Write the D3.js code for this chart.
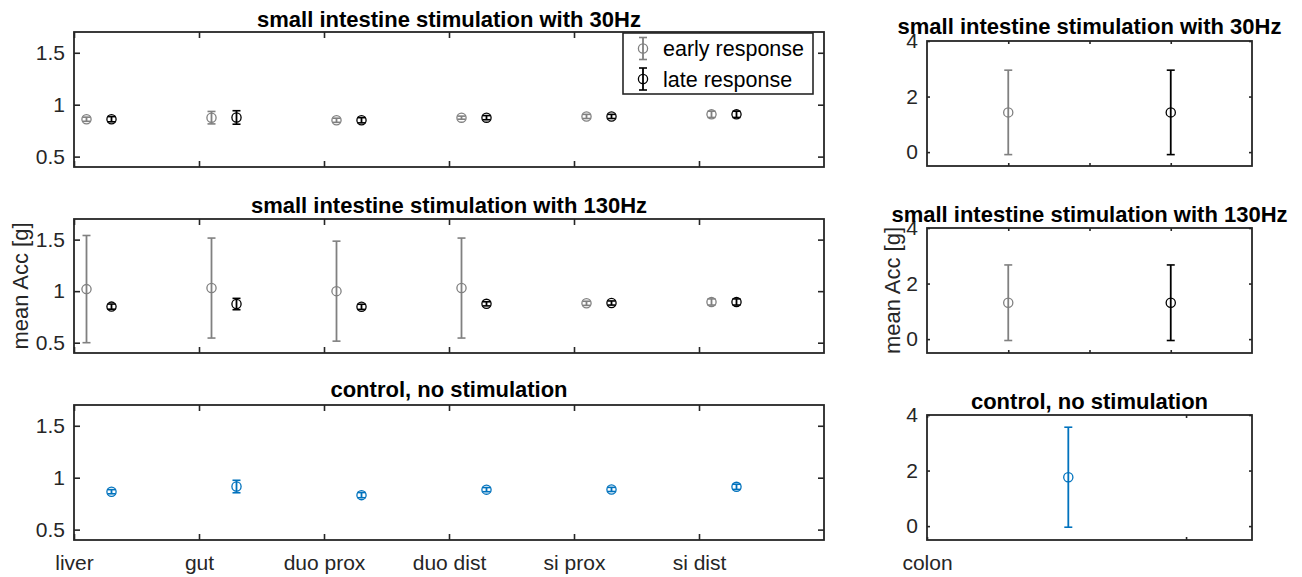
<!DOCTYPE html>
<html>
<head>
<meta charset="utf-8">
<script src="https://cdn.jsdelivr.net/npm/d3@7"></script>
<style>
  body { margin: 0; background: #fff; }
  svg { display: block; font-family: "Liberation Sans", Arial, sans-serif; }
</style>
</head>
<body>
<svg id="chart"></svg>
<script>
// data
const sites = ["liver", "gut", "duo prox", "duo dist", "si prox", "si dist"]
const early30Mean = [0.86, 0.875, 0.85, 0.875, 0.887, 0.907]
const early30Err = [0.02, 0.06, 0.02, 0.015, 0.02, 0.03]
const late30Mean = [0.86, 0.877, 0.85, 0.875, 0.887, 0.907]
const late30Err = [0.025, 0.065, 0.025, 0.02, 0.02, 0.03]
const early130Mean = [1.02, 1.03, 1.0, 1.03, 0.882, 0.895]
const early130Err = [0.52, 0.485, 0.485, 0.485, 0.02, 0.03]
const late130Mean = [0.85, 0.875, 0.848, 0.877, 0.885, 0.895]
const late130Err = [0.025, 0.055, 0.025, 0.02, 0.02, 0.03]
const ctrlMean = [0.865, 0.915, 0.832, 0.885, 0.887, 0.912]
const ctrlErr = [0.02, 0.06, 0.025, 0.02, 0.02, 0.025]

const colonLabel = ["colon"]
const colonEarly30 = [1.43], colonEarly30Err = [1.52]
const colonLate30 = [1.43], colonLate30Err = [1.52]
const colonEarly130 = [1.31], colonEarly130Err = [1.36]
const colonLate130 = [1.31], colonLate130Err = [1.36]
const colonCtrl = [1.76], colonCtrlErr = [1.8]

const leftYTicks = [0.5, 1, 1.5]
const rightYTicks = [0, 2, 4]

const GRAY = "#808080", BLACK = "#000000", BLUE = "#0072BD", AXC = "#262626"

const svg = d3.select("#chart").attr("width", 1302).attr("height", 577)
svg.append("rect").attr("width", 1302).attr("height", 577).attr("fill", "#fff")

const drawAxes = (o) => {
  const g = svg.append("g")
  const x = d3.scaleLinear().domain(o.xDomain).range([o.left, o.right])
  const y = d3.scaleLinear().domain(o.yDomain).range([o.bottom, o.top])
  const fmt = d3.format("~g")

  const style = (sel) => {
    sel.select(".domain").remove()
    sel.selectAll("line").attr("stroke", AXC).attr("stroke-width", 1.6)
    sel.selectAll("text").attr("fill", AXC).attr("font-size", 21)
    sel.attr("font-family", null).attr("font-size", null)
  }

  g.append("g").attr("transform", `translate(${o.left},0)`)
    .call(d3.axisLeft(y).tickValues(o.yTicks).tickSize(-o.tick).tickPadding(9).tickFormat(fmt)).call(style)
  g.append("g").attr("transform", `translate(${o.right},0)`)
    .call(d3.axisRight(y).tickValues(o.yTicks).tickSize(-o.tick).tickFormat("")).call(style)
  g.append("g").attr("transform", `translate(0,${o.bottom})`)
    .call(d3.axisBottom(x).tickValues(o.xTicks).tickSize(-o.tick).tickPadding(15)
      .tickFormat((d, i) => o.xLabels ? (o.xLabels[i] || "") : "")).call(style)
  g.append("g").attr("transform", `translate(0,${o.top})`)
    .call(d3.axisTop(x).tickValues(o.xTicks).tickSize(-o.tick).tickFormat("")).call(style)

  g.append("rect")
    .attr("x", o.left).attr("y", o.top)
    .attr("width", o.right - o.left).attr("height", o.bottom - o.top)
    .attr("fill", "none").attr("stroke", AXC).attr("stroke-width", 1.8)

  g.append("text")
    .attr("x", (o.left + o.right) / 2).attr("y", o.titleY)
    .attr("text-anchor", "middle").attr("font-weight", "bold").attr("font-size", 22)
    .attr("fill", "#000").text(o.title)

  if (o.ylabel) {
    g.append("text")
      .attr("transform", `translate(${o.ylabelX},${(o.top + o.bottom) / 2}) rotate(-90)`)
      .attr("text-anchor", "middle").attr("font-size", 22).attr("fill", AXC)
      .text(o.ylabel)
  }

  o.series.forEach(s => {
    const sg = g.append("g").attr("stroke", s.color).attr("fill", "none")
    s.mean.forEach((m, i) => {
      const cx = x(o.xBase + i + s.offset)
      const y0 = y(m - s.err[i]), y1 = y(m + s.err[i])
      sg.append("line").attr("x1", cx).attr("x2", cx).attr("y1", y0).attr("y2", y1).attr("stroke-width", 1.8)
      sg.append("line").attr("x1", cx - 4).attr("x2", cx + 4).attr("y1", y0).attr("y2", y0).attr("stroke-width", 1.6)
      sg.append("line").attr("x1", cx - 4).attr("x2", cx + 4).attr("y1", y1).attr("y2", y1).attr("stroke-width", 1.6)
      sg.append("circle").attr("cx", cx).attr("cy", y(m)).attr("r", 4.6).attr("stroke-width", 1.3)
    })
  })
  return { x, y, g }
}

const leftBase = { left: 74, right: 824, xDomain: [1, 7], yDomain: [0.4, 1.7], xTicks: [1, 2, 3, 4, 5, 6], yTicks: leftYTicks, tick: 6, xBase: 1 }
const rightBase = { left: 927, right: 1252, xDomain: [1, 1.4], yDomain: [-0.5, 4], xTicks: [1.1, 1.2, 1.3], yTicks: rightYTicks, tick: 3, xBase: 1 }

const top30 = drawAxes({ ...leftBase, top: 32, bottom: 167, titleY: 27,
  title: "small intestine stimulation with 30Hz",
  series: [
    { mean: early30Mean, err: early30Err, color: GRAY, offset: 0.1 },
    { mean: late30Mean, err: late30Err, color: BLACK, offset: 0.3 }
  ] })

drawAxes({ ...leftBase, top: 219, bottom: 353, titleY: 213,
  title: "small intestine stimulation with 130Hz", ylabel: "mean Acc [g]", ylabelX: 28,
  series: [
    { mean: early130Mean, err: early130Err, color: GRAY, offset: 0.1 },
    { mean: late130Mean, err: late130Err, color: BLACK, offset: 0.3 }
  ] })

drawAxes({ ...leftBase, top: 405, bottom: 540, titleY: 397, xLabels: sites,
  title: "control, no stimulation",
  series: [ { mean: ctrlMean, err: ctrlErr, color: BLUE, offset: 0.3 } ] })

drawAxes({ ...rightBase, top: 41, bottom: 166, titleY: 34,
  title: "small intestine stimulation with 30Hz",
  series: [
    { mean: colonEarly30, err: colonEarly30Err, color: GRAY, offset: 0.1 },
    { mean: colonLate30, err: colonLate30Err, color: BLACK, offset: 0.3 }
  ] })

drawAxes({ ...rightBase, top: 228, bottom: 353, titleY: 222,
  title: "small intestine stimulation with 130Hz", ylabel: "mean Acc [g]", ylabelX: 900,
  series: [
    { mean: colonEarly130, err: colonEarly130Err, color: GRAY, offset: 0.1 },
    { mean: colonLate130, err: colonLate130Err, color: BLACK, offset: 0.3 }
  ] })

drawAxes({ ...rightBase, top: 415, bottom: 540, titleY: 409, xDomain: [1, 1.69],
  xTicks: [1, 1.55], xLabels: colonLabel,
  title: "control, no stimulation",
  series: [ { mean: colonCtrl, err: colonCtrlErr, color: BLUE, offset: 0.3 } ] })

// legend in the top left axes
const legendItems = ["early response", "late response"]
const legendColors = [GRAY, BLACK]
const leg = top30.g.append("g")
leg.append("rect").attr("x", 623).attr("y", 33).attr("width", 190).attr("height", 61)
  .attr("fill", "#fff").attr("stroke", AXC).attr("stroke-width", 1.6)
legendItems.forEach((name, i) => {
  const cy = 48.5 + i * 30.5
  const lg = leg.append("g").attr("stroke", legendColors[i]).attr("fill", "none")
  lg.append("line").attr("x1", 643).attr("x2", 643).attr("y1", cy - 11).attr("y2", cy + 11).attr("stroke-width", 1.8)
  lg.append("line").attr("x1", 639).attr("x2", 647).attr("y1", cy - 11).attr("y2", cy - 11).attr("stroke-width", 1.6)
  lg.append("line").attr("x1", 639).attr("x2", 647).attr("y1", cy + 11).attr("y2", cy + 11).attr("stroke-width", 1.6)
  lg.append("circle").attr("cx", 643).attr("cy", cy).attr("r", 4.6).attr("stroke-width", 1.3)
  leg.append("text").attr("x", 663).attr("y", cy).attr("dy", "0.35em")
    .attr("font-size", 21.5).attr("fill", "#000").text(name)
})
</script>
</body>
</html>
